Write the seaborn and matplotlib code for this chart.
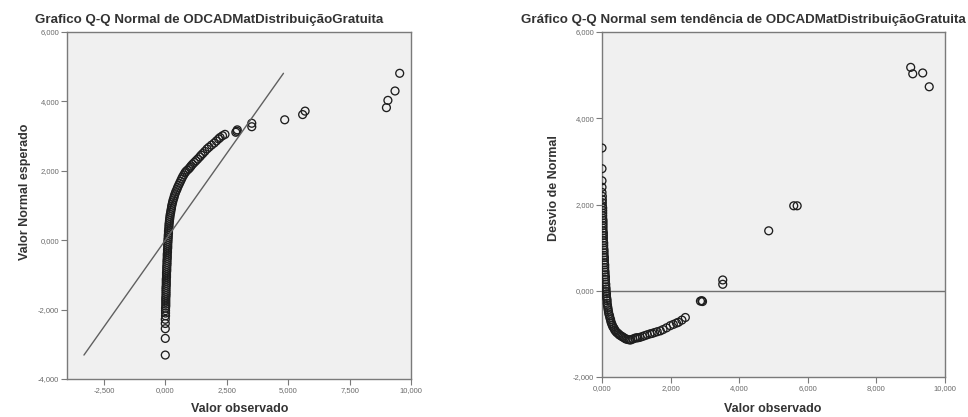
import matplotlib
matplotlib.use("Agg")
import matplotlib.pyplot as plt
import seaborn as sns
import numpy as np
import pandas as pd
from matplotlib.ticker import FuncFormatter

# ---- data ----
variable = "ODCADMatDistribuiçãoGratuita"
expected = [
    -3.31, -2.83, -2.55, -2.40, -2.28, -2.18, -2.10, -2.03, -1.96, -1.90,
    -1.84, -1.78, -1.72, -1.66, -1.60, -1.54, -1.48, -1.42, -1.36, -1.30,
    -1.24, -1.18, -1.12, -1.06, -1.00, -0.94, -0.88, -0.82, -0.76, -0.70,
    -0.64, -0.58, -0.52, -0.46, -0.40, -0.34, -0.28, -0.22, -0.16, -0.10,
    -0.04, 0.02, 0.08, 0.14, 0.20, 0.26, 0.32, 0.38, 0.44, 0.50,
    0.56, 0.62, 0.68, 0.74, 0.80, 0.86, 0.92, 0.98, 1.04, 1.10,
    1.16, 1.22, 1.28, 1.34, 1.40, 1.46, 1.52, 1.58, 1.64, 1.70,
    1.76, 1.82, 1.88, 1.94, 1.98, 2.02, 2.06, 2.10, 2.14, 2.19,
    2.24, 2.29, 2.34, 2.40, 2.45, 2.50, 2.56, 2.63, 2.68, 2.74,
    2.80, 2.86, 2.92, 2.96, 3.01, 3.05, 3.11, 3.14, 3.18, 3.27,
    3.37, 3.47, 3.62, 3.72, 3.82, 4.03, 4.30, 4.81,
]
observed = [
    0.00, 0.00, 0.00, 0.00, 0.00, 0.01, 0.01, 0.01, 0.01, 0.02,
    0.02, 0.02, 0.02, 0.02, 0.03, 0.03, 0.03, 0.03, 0.03, 0.04,
    0.04, 0.04, 0.04, 0.05, 0.05, 0.05, 0.06, 0.06, 0.06, 0.07,
    0.07, 0.07, 0.08, 0.08, 0.08, 0.09, 0.09, 0.10, 0.10, 0.10,
    0.11, 0.11, 0.12, 0.12, 0.13, 0.13, 0.14, 0.15, 0.15, 0.16,
    0.17, 0.18, 0.19, 0.20, 0.22, 0.23, 0.25, 0.26, 0.28, 0.30,
    0.32, 0.35, 0.37, 0.40, 0.43, 0.47, 0.50, 0.54, 0.58, 0.62,
    0.66, 0.70, 0.75, 0.80, 0.84, 0.90, 0.96, 1.01, 1.05, 1.11,
    1.18, 1.25, 1.32, 1.40, 1.46, 1.53, 1.61, 1.70, 1.78, 1.88,
    1.99, 2.08, 2.17, 2.23, 2.33, 2.43, 2.87, 2.91, 2.93, 3.52,
    3.52, 4.86, 5.59, 5.69, 9.00, 9.06, 9.35, 9.54,
]
left_xticks = [-2.5, 0.0, 2.5, 5.0, 7.5, 10.0]
left_yticks = [-4.0, -2.0, 0.0, 2.0, 4.0, 6.0]
right_xticks = [0.0, 2.0, 4.0, 6.0, 8.0, 10.0]
right_yticks = [-2.0, 0.0, 2.0, 4.0, 6.0]

df = pd.DataFrame({"observado": observed, "esperado": expected})
df["desvio"] = df["observado"] - df["esperado"]
line_df = pd.DataFrame({"x": [min(expected), max(expected)],
                        "y": [min(expected), max(expected)]})

sns.set_theme(style="white")
plt.rcParams["font.family"] = ["Liberation Sans", "DejaVu Sans"]

W, H = 968, 417
fig = plt.figure(figsize=(W / 100, H / 100), dpi=100)
fig.patch.set_facecolor("white")

def px_axes(x0, y0, x1, y1):
    return fig.add_axes([x0 / W, 1 - y1 / H, (x1 - x0) / W, (y1 - y0) / H])

ax1 = px_axes(67, 32, 411, 379)
ax2 = px_axes(602, 32, 945, 377)

fmt = FuncFormatter(lambda v, p: f"{v:.3f}".replace(".", ","))
edge = "#1e1e1e"
for ax in (ax1, ax2):
    ax.set_facecolor("#f0f0f0")
    for s in ax.spines.values():
        s.set_color("#7a7a7a")
        s.set_linewidth(1.0)
    ax.tick_params(axis="both", which="major", direction="out", length=4,
                   width=0.8, color="#7a7a7a", labelsize=5.5,
                   labelcolor="#6a6a6a", pad=1.5, bottom=True, left=True)
    ax.xaxis.set_major_formatter(fmt)
    ax.yaxis.set_major_formatter(fmt)

# Left: Q-Q normal
sns.lineplot(data=line_df, x="x", y="y", ax=ax1, color="#606060",
             linewidth=1.0, sort=False)
sns.scatterplot(data=df, x="observado", y="esperado", ax=ax1, marker="o",
                s=32, facecolor="none", edgecolor=edge, linewidth=0.95)
ax1.set_xlim(-4, 10)
ax1.set_ylim(-4, 6)
ax1.set_xticks(left_xticks)
ax1.set_yticks(left_yticks)

# Right: detrended
ax2.axhline(0, color="#707070", linewidth=1.0, zorder=1)
sns.scatterplot(data=df, x="observado", y="desvio", ax=ax2, marker="o",
                s=32, facecolor="none", edgecolor=edge, linewidth=0.95, zorder=3)
ax2.set_xlim(0, 10)
ax2.set_ylim(-2, 6)
ax2.set_xticks(right_xticks)
ax2.set_yticks(right_yticks)

for ax in (ax1, ax2):
    ax.set_xlabel("")
    ax.set_ylabel("")

lab = dict(fontsize=9, fontweight="bold", color="#333333")
tit = dict(fontsize=9.6, fontweight="bold", color="#333333")
fig.text(35 / W, 1 - 20 / H, "Grafico Q-Q Normal de " + variable,
         ha="left", va="center", **tit)
fig.text(521 / W, 1 - 20 / H, "Gráfico Q-Q Normal sem tendência de " + variable,
         ha="left", va="center", **tit)
fig.text(25 / W, 1 - 192 / H, "Valor Normal esperado", rotation=90,
         ha="center", va="center", **lab)
fig.text(554 / W, 1 - 188 / H, "Desvio de Normal", rotation=90,
         ha="center", va="center", **lab)
fig.text(240 / W, 1 - 409 / H, "Valor observado", ha="center", va="center", **lab)
fig.text(773 / W, 1 - 409 / H, "Valor observado", ha="center", va="center", **lab)

fig.savefig("out.png", dpi=100, facecolor="white")
